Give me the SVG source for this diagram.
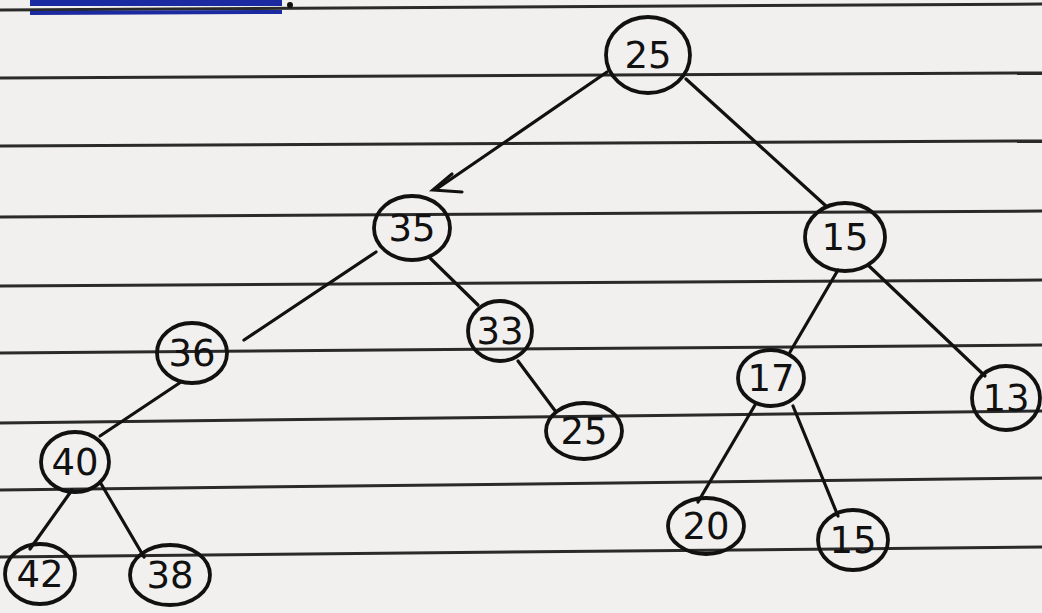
<svg xmlns="http://www.w3.org/2000/svg" width="1042" height="613" viewBox="0 0 1042 613">
<style>
.rule{stroke:#2a2a2a;stroke-width:3;fill:none}
.node ellipse{fill:none;stroke:#111;stroke-width:3.8}
.node text{font-family:"DejaVu Sans","Liberation Sans",sans-serif;font-size:37px;fill:#111;text-anchor:middle;dominant-baseline:central}
.edge{stroke:#111;stroke-width:3.2;fill:none;stroke-linecap:round}
</style>
<rect width="1042" height="613" fill="#f1f0ee"/>
<g id="paper-lines">
<line class="rule" x1="0" y1="10" x2="1042" y2="4"/>
<line class="rule" x1="0" y1="78" x2="1042" y2="73"/>
<line class="rule" x1="0" y1="146" x2="1042" y2="141"/>
<line class="rule" x1="0" y1="217" x2="1042" y2="211"/>
<line class="rule" x1="0" y1="286" x2="1042" y2="280"/>
<line class="rule" x1="0" y1="353" x2="1042" y2="345"/>
<line class="rule" x1="0" y1="423" x2="1042" y2="411"/>
<line class="rule" x1="0" y1="490" x2="1042" y2="478"/>
<line class="rule" x1="0" y1="557" x2="1042" y2="547"/>
</g>
<g id="heading-mark">
<path d="M30 0 L282 0" stroke="#1b2aa0" stroke-width="12"/>
<line x1="30" y1="13" x2="282" y2="12" stroke="#1b2aa0" stroke-width="4"/>
<circle cx="290" cy="5" r="3" fill="#111"/>
</g>
<g id="connectors">
<line class="edge" x1="607" y1="72" x2="438" y2="188"/>
<path class="edge" d="M452 174 L433 190 L462 192"/>
<line class="edge" x1="686" y1="79" x2="826" y2="206"/>
<line class="edge" x1="376" y1="252" x2="244" y2="340"/>
<line class="edge" x1="430" y1="258" x2="478" y2="305"/>
<line class="edge" x1="518" y1="361" x2="556" y2="412"/>
<line class="edge" x1="838" y1="270" x2="790" y2="352"/>
<line class="edge" x1="868" y1="265" x2="985" y2="376"/>
<line class="edge" x1="181" y1="382" x2="100" y2="436"/>
<line class="edge" x1="72" y1="490" x2="30" y2="549"/>
<line class="edge" x1="100" y1="482" x2="144" y2="557"/>
<line class="edge" x1="755" y1="405" x2="698" y2="502"/>
<line class="edge" x1="793" y1="406" x2="838" y2="516"/>
</g>
<g id="n25" class="node"><ellipse cx="648" cy="55" rx="42" ry="38"/><text x="648" y="55">25</text></g>
<g id="n35" class="node"><ellipse cx="412" cy="228" rx="38" ry="32"/><text x="412" y="228">35</text></g>
<g id="n15" class="node"><ellipse cx="845" cy="237" rx="40" ry="34"/><text x="845" y="237">15</text></g>
<g id="n36" class="node"><ellipse cx="192" cy="353" rx="35" ry="30"/><text x="192" y="353">36</text></g>
<g id="n33" class="node"><ellipse cx="500" cy="331" rx="32" ry="30"/><text x="500" y="331">33</text></g>
<g id="n25b" class="node"><ellipse cx="584" cy="431" rx="38" ry="28"/><text x="584" y="431">25</text></g>
<g id="n17" class="node"><ellipse cx="771" cy="378" rx="33" ry="28"/><text x="771" y="378">17</text></g>
<g id="n13" class="node"><ellipse cx="1006" cy="398" rx="34" ry="32"/><text x="1006" y="398">13</text></g>
<g id="n40" class="node"><ellipse cx="75" cy="462" rx="34" ry="30"/><text x="75" y="462">40</text></g>
<g id="n42" class="node"><ellipse cx="40" cy="574" rx="35" ry="30"/><text x="40" y="574">42</text></g>
<g id="n38" class="node"><ellipse cx="170" cy="575" rx="40" ry="30"/><text x="170" y="575">38</text></g>
<g id="n20" class="node"><ellipse cx="706" cy="526" rx="38" ry="28"/><text x="706" y="526">20</text></g>
<g id="n15b" class="node"><ellipse cx="853" cy="540" rx="35" ry="30"/><text x="853" y="540">15</text></g>
</svg>
